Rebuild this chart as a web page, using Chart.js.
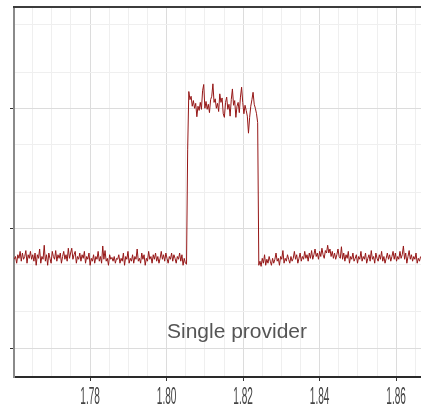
<!DOCTYPE html>
<html>
<head>
<meta charset="utf-8">
<script src="https://cdn.jsdelivr.net/npm/chart.js@4"></script>
<style>
  html, body { margin: 0; padding: 0; background: #fff; }
  #wrap { width: 421px; height: 409px; }
</style>
</head>
<body>
<div id="wrap"><canvas id="chart" width="421" height="409"></canvas></div>
<script>
// sample times: evenly spaced
const xStart = 1.7602;
const xStep = 0.0003;

// noise floor before the burst
const baselineBefore = [
  5.5, 5.8, 5.1, 6.0, 5.6, 6.4, 5.3, 6.2, 5.5, 5.8, 6.5, 5.1, 6.0, 5.6, 6.4,
  5.5, 6.0, 5.3, 6.2, 4.9, 6.0, 5.6, 6.7, 5.1, 5.8, 5.5, 7.2, 5.3, 6.0, 4.9,
  6.2, 5.6, 5.1, 6.4, 5.8, 5.5, 6.5, 5.3, 6.0, 5.6, 6.2, 5.1, 5.8, 6.4, 5.5,
  6.0, 5.3, 6.8, 5.6, 6.2, 6.8, 5.5, 6.0, 6.4, 5.1, 5.8, 5.5, 6.2, 5.3, 6.0,
  5.6, 6.4, 5.1, 5.8, 5.5, 6.2, 4.9, 5.6, 5.3, 6.0, 5.1, 5.8, 5.5, 6.4, 5.3,
  5.8, 5.1, 7.1, 5.5, 6.5, 5.3, 5.6, 4.9, 6.0, 5.5, 5.7, 5.3, 5.8, 5.1, 5.6,
  5.5, 6.0, 5.1, 5.6, 5.3, 6.2, 4.9, 5.8, 5.5, 6.4, 5.1, 5.6, 5.3, 6.0, 5.1,
  5.8, 5.5, 6.7, 5.3, 5.6, 5.1, 6.2, 5.5, 6.0, 4.9, 5.6, 5.3, 6.4, 5.5, 5.8,
  5.1, 6.0, 5.5, 6.2, 5.3, 5.8, 5.1, 5.6, 6.4, 5.5, 6.0, 5.3, 6.2, 5.6, 5.1,
  5.8, 5.5, 6.2, 5.3, 6.0, 5.6, 5.1, 5.8, 5.5, 6.2, 5.3, 6.0, 4.9, 5.6, 5.1,
  5.0
];
const riseValues = [45];
// single provider burst
const plateauValues = [
  138, 118, 126, 104, 116, 100, 110, 85, 104, 96,
  112, 98, 140, 158, 100, 114, 98, 108, 92, 118,
  126, 160, 112, 120, 100, 110, 94, 132, 112, 122,
  90, 84, 112, 124, 98, 108, 86, 118, 145, 106,
  116, 84, 104, 112, 92, 124, 150, 112, 90, 106,
  96, 86, 62, 84, 104, 118, 136, 108, 100, 90
];
const fallValues = [76];
const baselineAfter = [
  4.9, 5.3, 4.8, 5.6, 5.1, 6.0, 4.9, 5.5, 5.1, 5.8, 5.3, 4.9, 5.6, 5.1, 5.5,
  6.2, 5.3, 5.6, 4.9, 5.8, 5.5, 6.5, 5.1, 5.6, 5.3, 6.0, 5.5, 5.1, 5.8, 5.3,
  5.6, 6.4, 5.5, 6.0, 5.1, 5.6, 6.2, 5.3, 5.8, 5.5, 6.4, 5.6, 6.0, 5.3, 6.2,
  5.6, 6.5, 5.5, 6.0, 6.7, 5.8, 6.2, 5.5, 6.4, 5.8, 6.8, 6.0, 5.6, 6.5, 6.2,
  7.2, 6.2, 6.7, 5.8, 6.4, 5.6, 6.2, 5.5, 6.0, 6.7, 5.8, 5.6, 7.0, 5.5, 6.2,
  5.3, 6.0, 5.6, 6.4, 5.1, 5.8, 5.5, 6.2, 5.3, 5.6, 6.0, 5.1, 5.8, 5.5, 6.4,
  5.3, 5.8, 5.5, 6.2, 5.1, 5.6, 6.0, 5.3, 6.5, 5.5, 5.8, 5.1, 6.2, 5.6, 5.3,
  6.0, 5.5, 6.4, 5.3, 5.8, 5.1, 5.6, 6.2, 5.5, 6.0, 5.3, 5.8, 6.4, 5.5, 6.2,
  5.3, 5.8, 5.5, 6.4, 5.6, 6.0, 7.1, 5.5, 6.2, 5.1, 5.8, 6.5, 5.5, 6.0, 5.3,
  5.8, 5.5, 6.2, 5.1, 5.6, 5.3, 5.8
];

// axes
const xMin = 1.7601, xMax = 1.8665;
const xGridValues = [1.765, 1.770, 1.775, 1.780, 1.785, 1.790, 1.795, 1.800, 1.805, 1.810,
  1.815, 1.820, 1.825, 1.830, 1.835, 1.840, 1.845, 1.850, 1.855, 1.860, 1.865];
const xTickValues = [1.78, 1.80, 1.82, 1.84, 1.86];
const xTickLabels = ['1.78', '1.80', '1.82', '1.84', '1.86'];
const yMin = 0.573, yMax = 700;
const yGridValues = [1, 2, 5, 10, 20, 50, 100, 200, 500];
const yMajorValues = [1, 10, 100];
const annotation = 'Single provider';

const values = baselineBefore.concat(riseValues, plateauValues, fallValues, baselineAfter);
const points = values.map((v, i) => ({ x: xStart + i * xStep, y: v }));

const isXMajor = v => xTickValues.some(t => Math.abs(t - v) < 1e-6);
const isYMajor = v => yMajorValues.some(t => Math.abs(t - v) < 1e-9);

const overlay = {
    id: 'overlay',
    afterDraw(chart) {
        const ctx = chart.ctx;
        const area = chart.chartArea;
        const xs = chart.scales.x;
        ctx.save();
        // top frame line
        ctx.strokeStyle = '#3c3c3c';
        ctx.lineWidth = 2;
        ctx.beginPath();
        ctx.moveTo(area.left - 1, area.top);
        ctx.lineTo(area.right, area.top);
        ctx.stroke();

        // narrow tick labels
        ctx.fillStyle = '#444';
        ctx.font = '24px "Liberation Sans", Arial, sans-serif';
        ctx.textAlign = 'center';
        ctx.textBaseline = 'alphabetic';
        xTickLabels.forEach((lab, i) => {
            const px = xs.getPixelForValue(xTickValues[i]);
            ctx.save();
            ctx.translate(px, area.bottom + 27);
            ctx.scale(0.42, 1);
            ctx.fillText(lab, 0, 0);
            ctx.restore();
        });

        // label inside the plot
        ctx.fillStyle = '#555';
        ctx.font = '21px "Liberation Sans", Arial, sans-serif';
        ctx.fillText(annotation, area.left + 223, area.bottom - 39);
        ctx.restore();
    }
};

new Chart(document.getElementById('chart').getContext('2d'), {
    type: 'line',
    data: {
        datasets: [{
            data: points,
            borderColor: '#951616',
            borderWidth: 1,
            pointRadius: 0,
            tension: 0,
            fill: false
        }]
    },
    options: {
        responsive: false,
        devicePixelRatio: 1,
        animation: false,
        events: [],
        layout: { padding: { top: 7, left: 0, right: 0, bottom: 0 } },
        scales: {
            x: {
                type: 'linear',
                min: xMin,
                max: xMax,
                afterBuildTicks: s => { s.ticks = xGridValues.map(v => ({ value: v })); },
                afterFit: s => { s.height = 32; },
                ticks: { display: false },
                grid: {
                    color: c => isXMajor(c.tick.value) ? '#dcdcdc' : '#efefef',
                    tickColor: c => isXMajor(c.tick.value) ? '#333' : 'rgba(0,0,0,0)',
                    tickLength: 4
                },
                border: { color: '#2a2a2a', width: 2 }
            },
            y: {
                type: 'logarithmic',
                min: yMin,
                max: yMax,
                afterBuildTicks: s => { s.ticks = yGridValues.map(v => ({ value: v })); },
                afterFit: s => { s.width = 14; },
                ticks: { display: false },
                grid: {
                    color: c => isYMajor(c.tick.value) ? '#dcdcdc' : '#efefef',
                    tickColor: c => isYMajor(c.tick.value) ? '#333' : 'rgba(0,0,0,0)',
                    tickLength: 4
                },
                border: { color: '#8a8a8a', width: 2 }
            }
        },
        plugins: {
            legend: { display: false },
            tooltip: { enabled: false }
        }
    },
    plugins: [overlay]
});
</script>
</body>
</html>
